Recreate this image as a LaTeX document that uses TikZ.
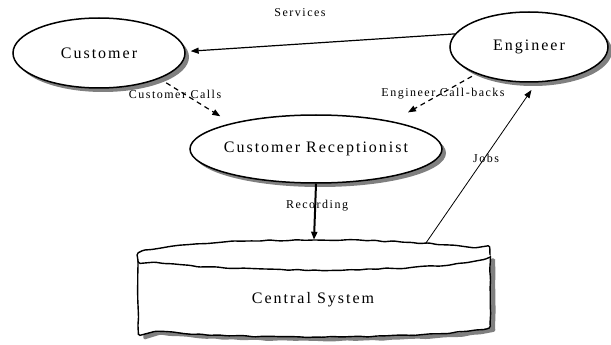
\documentclass[tikz,border=0pt]{standalone}
\usepackage{fontspec}
\setmainfont{Liberation Serif}[LetterSpace=12.5]
\usetikzlibrary{shapes.geometric,arrows.meta,decorations.pathmorphing}

\definecolor{shadowgray}{gray}{0.5}

\tikzset{
  px/.style={x=1pt,y=-1pt},
  entity/.style={ellipse, draw, line width=1.5pt, fill=white, inner sep=0pt,
    font=\fontsize{16}{18}\selectfont},
  flowlabel/.style={font=\fontsize{12}{14}\selectfont, inner sep=0pt},
  rough/.style={decorate, decoration={random steps, segment length=9pt, amplitude=0.7pt},
    rounded corners=1.5pt},
  tip/.style={-{Triangle[length=8pt,width=6pt]}},
  callflow/.style={tip, line width=1.2pt, dash pattern=on 5pt off 4pt},
}

% outline of the cylinder body: left side, lower rim, right side
\newcommand\drumbody{(138,255) -- (138,325) arc[start angle=180, end angle=360, x radius=176pt, y radius=12pt] -- (490,255)}

\begin{document}
\begin{tikzpicture}[px]
\useasboundingbox (0,0) rectangle (611,345);

% shadows of the ellipses
\fill[shadowgray] (103,57) ellipse[x radius=86pt, y radius=35pt];
\fill[shadowgray] (533,51) ellipse[x radius=79pt, y radius=35pt];
\fill[shadowgray] (320,153) ellipse[x radius=126pt, y radius=34pt];

% people and roles
\node[entity, minimum width=172pt, minimum height=70pt] (cust) at (99,53) {\makebox[0pt]{Customer}};
\node[entity, minimum width=158pt, minimum height=70pt] (eng) at (529,47) {\makebox[0pt]{Engineer}};
\node[entity, minimum width=252pt, minimum height=68pt] (rec) at (316,149) {\makebox[0pt]{Customer Receptionist}};

% central system drawn as a rough cylinder with a shadow
\pgfmathsetseed{11}
\fill[shadowgray, rough, shift={(5,4)}] \drumbody -- cycle;
\pgfmathsetseed{11}
\fill[white, rough] \drumbody -- cycle;
\pgfmathsetseed{11}
\draw[rough, line width=1.4pt] \drumbody;
\node[ellipse, inner sep=0pt, minimum width=352pt, minimum height=30pt] (cyltop) at (314,255) {};
\draw[rough, line width=1.4pt, fill=white] (314,255) ellipse[x radius=176pt, y radius=15pt];
\node[font=\fontsize{16}{18}\selectfont, inner sep=0pt] (cyl) at (313,300) {Central System};

% flows
\draw[tip, line width=1.2pt, shorten >=5pt] (eng.170) -- (cust.1);
\node[flowlabel] (lserv) at (300,13) {Services};

\draw[callflow, shorten <=8pt, shorten >=13pt] (cust.-23) -- (rec.163);
\node[flowlabel] (lcalls) at (175,94) {Customer Calls};

\draw[callflow, shorten <=5pt, shorten >=18pt] (eng.207) -- (rec.20);
\node[flowlabel] (lcb) at (443,94) {Engineer Call-backs};

\draw[tip, line width=2pt] (rec.south) -- (cyltop.north);
\node[flowlabel] (lrec) at (317,206) {Recording};

\draw[tip, line width=0.8pt, shorten >=9pt] (cyltop.6) -- (eng.-78);
\node[flowlabel] (ljobs) at (486,158) {Jobs};
\end{tikzpicture}
\end{document}
